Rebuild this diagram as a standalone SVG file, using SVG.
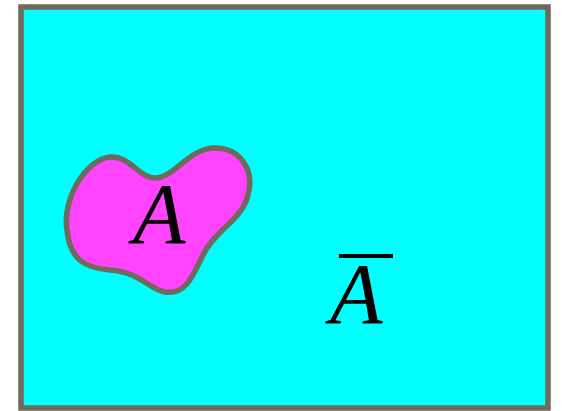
<svg xmlns="http://www.w3.org/2000/svg" width="562" height="411" viewBox="0 0 562 411">
<style>
.edge{stroke:#6e6a5c;stroke-width:5.5}
.lbl{font-family:"Liberation Serif","Times New Roman",serif;font-style:italic;font-size:86px;fill:#000}
</style>
<rect width="562" height="411" fill="#ffffff"/>
<g id="universe">
<rect class="edge" x="21" y="7" width="527" height="401" fill="#00ffff"/>
<text class="lbl" x="330" y="323">A</text>
<rect x="339" y="254" width="54" height="4" fill="#000"/>
</g>
<g id="setA">
<path class="edge" fill="#ff44ff" d="M 67,230 C 62,200 85,160 110,157 C 130,155 140,180 157,178 C 175,176 190,148 215,148 C 240,148 255,170 248,195 C 242,220 215,230 203,255 C 192,278 185,295 165,292 C 150,290 140,272 110,270 C 85,268 70,260 67,230 Z"/>
<text class="lbl" x="133" y="243">A</text>
</g>
<g id="connectors"/>
</svg>
